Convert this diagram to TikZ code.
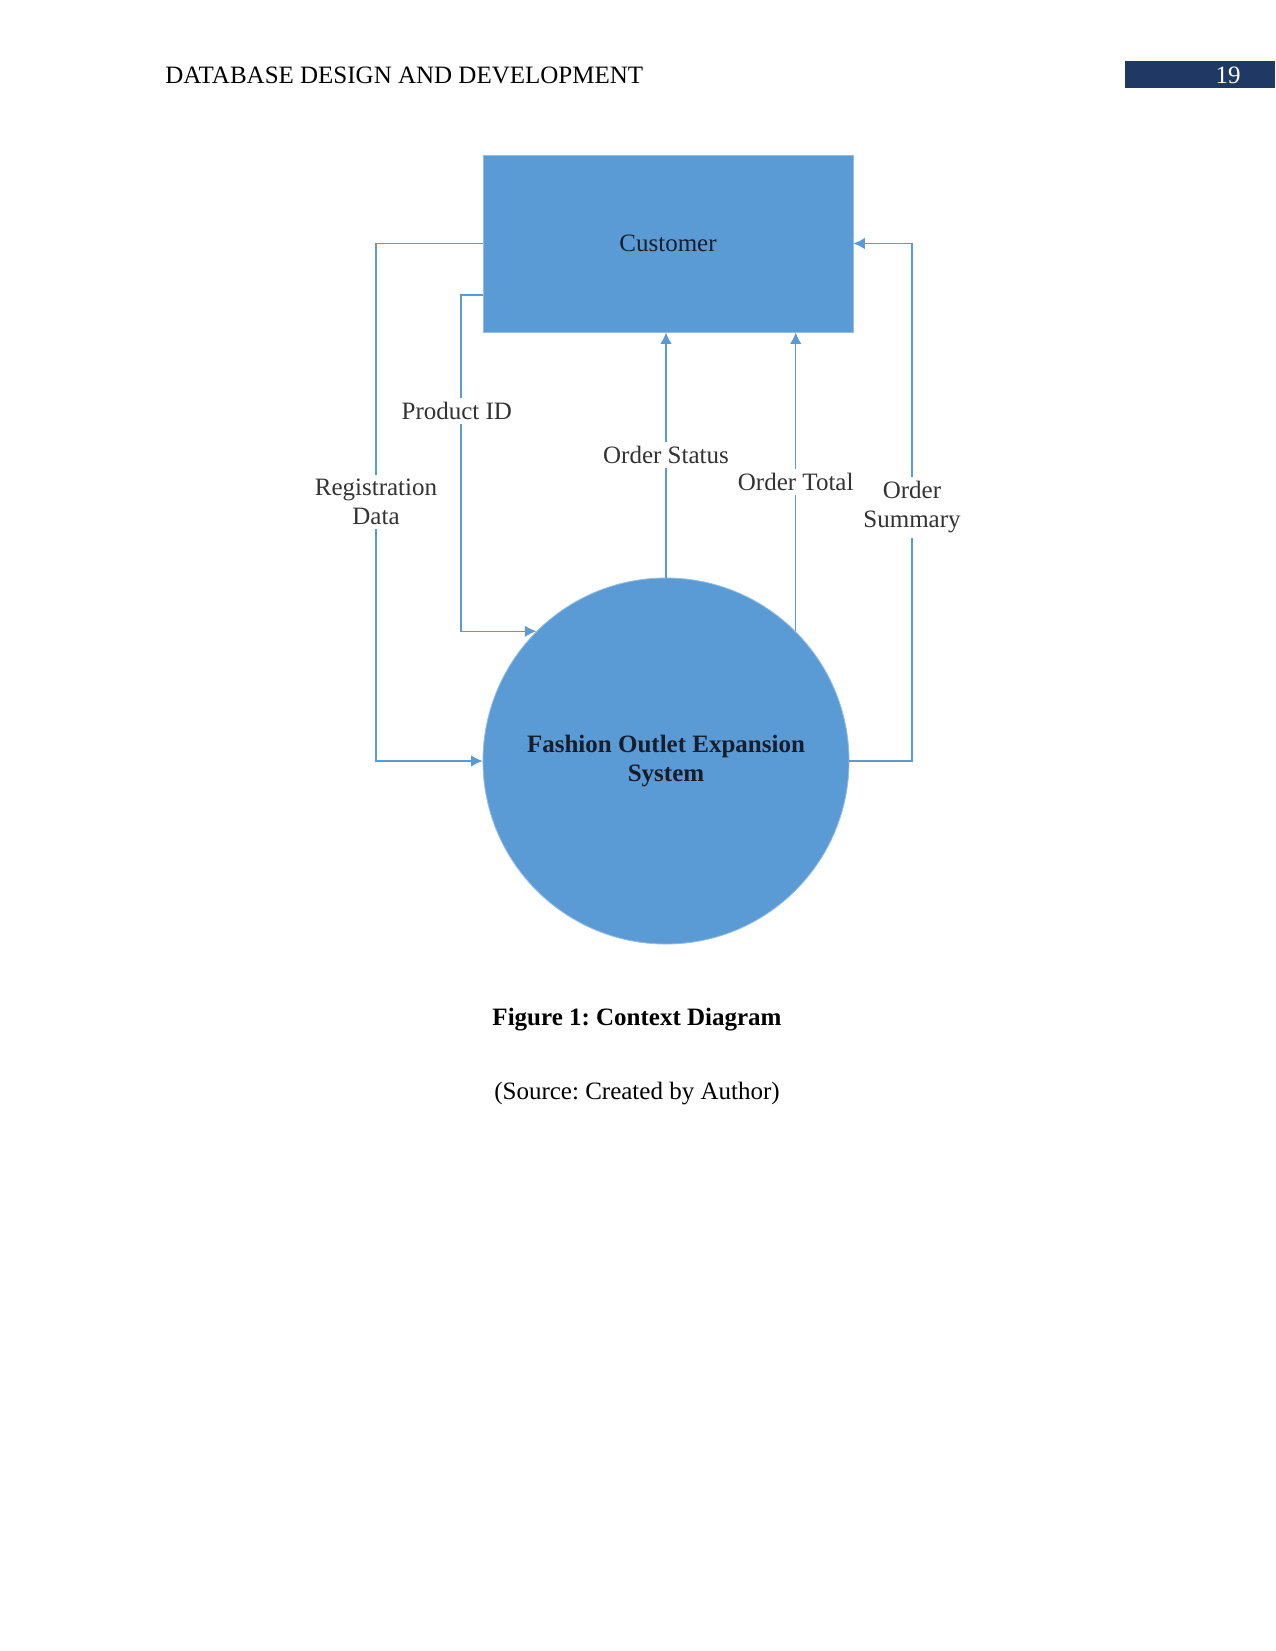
\documentclass[tikz,border=0pt]{standalone}
\usepackage{fontspec}
\setmainfont{Liberation Serif}
\usepackage{xcolor}
\usepackage{tikz}
\usetikzlibrary{arrows.meta,positioning,calc}
\definecolor{dfdblue}{RGB}{91,155,213}
\definecolor{dfdedge}{RGB}{150,190,228}
\definecolor{navy}{RGB}{31,56,100}
\definecolor{ink}{RGB}{20,30,45}
\frenchspacing

\begin{document}
\begin{tikzpicture}[x=0.48pt,y=-0.48pt,font=\fontsize{12}{14}\selectfont]
\tikzset{ent/.style={draw=dfdedge,fill=dfdblue,minimum width=177.6pt,minimum height=85pt,text=ink},
  proc/.style={circle,draw=dfdedge,fill=dfdblue,minimum size=175.7pt,align=center,text=ink,font=\fontsize{12}{14}\selectfont\bfseries},
  flow/.style={-{Latex[length=5.5pt,width=5.5pt]},dfdblue,line width=0.55pt},
  lbl/.style={fill=white,align=center,text=black!80,inner sep=2pt,font=\fontsize{12}{14}\selectfont}}
\useasboundingbox (0,0) rectangle (1275,1651);
% page header
\node[anchor=west] (head) at (158,75) {DATABASE DESIGN AND DEVELOPMENT};
\fill[navy] (1125,61) rectangle (1275,88);
\node[text=white] (pg) at (1228,75) {19};
% entity and process
\node[ent] (cust) at (668,243.5) {Customer};
\node[proc] (sys) at (666,761) {Fashion Outlet Expansion\\System};
\coordinate (rl) at (376,243.5);
\coordinate (ps) at (483,295);
\coordinate (pl) at (461,295);
\coordinate (sr) at (912,761);
% data flows
\draw[flow](cust.west)--(rl) |- node[lbl,pos=0.25]{Registration\\Data}(sys.west);
\draw[flow](ps)--(pl) |- node[lbl,pos=0.172,xshift=-2pt]{Product ID}(sys.135);
\draw[flow](sys.north)--(sys.north |- cust.south) node[lbl,midway]{Order Status};
\draw[flow](sys.45)--(sys.45 |- cust.south) node[lbl,midway]{Order Total};
\draw[flow](sys.east)--(sr) |- node[lbl,pos=0.245]{Order\\Summary}(cust.east);
% caption
\node[font=\fontsize{12}{14}\selectfont\bfseries] (cap) at (637,1020) {Figure 1: Context Diagram};
\node (src) at (637,1094) {(Source: Created by Author)};
\end{tikzpicture}
\end{document}
